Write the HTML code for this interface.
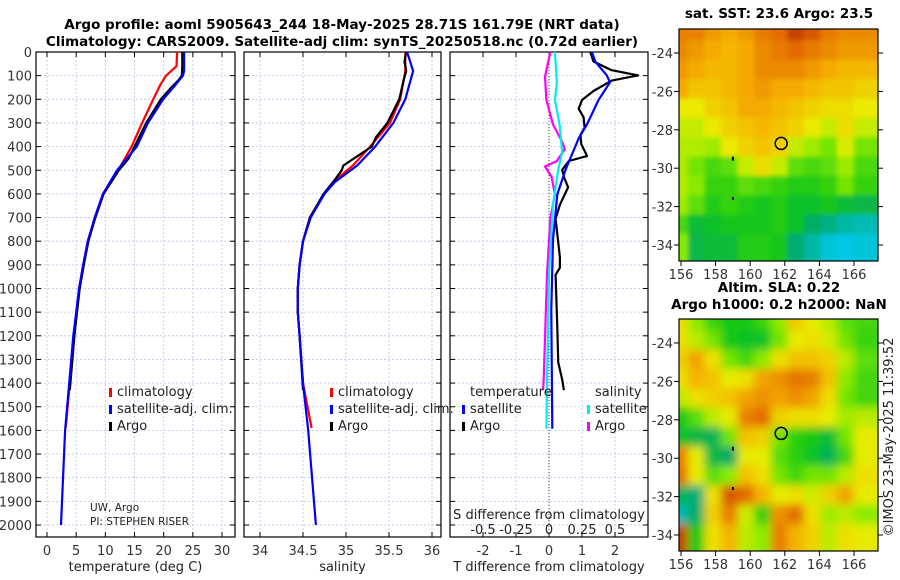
<!DOCTYPE html>
<html><head><meta charset="utf-8"><style>
html,body{margin:0;padding:0;background:#fff;}
svg{display:block;font-family:"DejaVu Sans","Liberation Sans",sans-serif;}
</style></head><body>
<svg id="c" width="900" height="580" viewBox="0 0 900 580" xmlns="http://www.w3.org/2000/svg">
<defs>
<clipPath id="clipTop"><rect x="679" y="29" width="199" height="232"/></clipPath>
<clipPath id="clipBot"><rect x="679" y="319" width="199" height="232"/></clipPath>
<filter id="blurA" x="-10%" y="-10%" width="120%" height="120%"><feGaussianBlur stdDeviation="2.5"/></filter>
<filter id="blurB" x="-10%" y="-10%" width="120%" height="120%"><feGaussianBlur stdDeviation="4.5"/></filter>
</defs>
<text x="342" y="29" text-anchor="middle" font-size="13.5" font-weight="bold">Argo profile: aoml 5905643_244 18-May-2025 28.71S 161.79E (NRT data)</text>
<text x="342" y="46" text-anchor="middle" font-size="13.5" font-weight="bold">Climatology: CARS2009. Satellite-adj clim: synTS_20250518.nc (0.72d earlier)</text>
<g id="plots"></g>
</svg>
<script>
// ---------- Data ----------
const depthTicks=[0,100,200,300,400,500,600,700,800,900,1000,1100,1200,1300,1400,1500,1600,1700,1800,1900,2000];
const tTicks=[0,5,10,15,20,25,30];
const sTicks=[34,34.5,35,35.5,36];
const dTTicks=[-2,-1,0,1,2];
const dSTicks=[-0.5,-0.25,0,0.25,0.5];
const dSTickLabels=["-0.5","-0.25","0","0.25","0.5"];

const tClimDepth=[0,60,100,140,200,300,400,500,600,700,800,900,1000,1200,1400,1590];
const tClimVal=[22.3,22.2,20.4,19.4,18.2,16.3,14.5,12.2,9.6,8.2,7.0,6.2,5.5,4.6,3.9,3.2];
const tSatDepth=[0,80,100,140,200,300,400,500,600,700,800,900,1000,1200,1400,1600,2000];
const tSatVal=[23.5,23.5,23.3,22.0,19.9,17.3,15.4,12.0,9.6,8.2,7.0,6.2,5.5,4.5,3.8,3.1,2.4];
const tArgoDepth=[0,60,100,120,150,200,300,400,450,500,600,700,800,900,1000,1200,1430];
const tArgoVal=[23.2,23.2,23.1,22.5,21.3,19.5,17.0,15.0,14.0,12.3,9.7,8.3,7.1,6.3,5.6,4.7,3.9];

const sClimDepth=[0,80,200,300,400,480,550,600,700,800,900,1000,1100,1200,1400,1590];
const sClimVal=[35.69,35.69,35.63,35.51,35.28,35.08,34.85,34.74,34.58,34.50,34.46,34.44,34.44,34.46,34.50,34.60];
const sSatDepth=[0,80,200,300,400,480,550,600,700,800,900,1000,1100,1200,1400,1600,2000];
const sSatVal=[35.71,35.78,35.69,35.55,35.34,35.13,34.87,34.75,34.59,34.50,34.46,34.44,34.44,34.46,34.50,34.56,34.65];
const sArgoDepth=[0,40,80,120,200,300,360,400,480,500,550,600,700,800,900,1000,1100,1200,1430];
const sArgoVal=[35.70,35.68,35.70,35.67,35.62,35.48,35.35,35.30,34.97,34.95,34.85,34.74,34.58,34.50,34.46,34.44,34.44,34.46,34.50];

const dTSatDepth=[0,40,99,128,203,306,365,498,602,794,1090,1593];
const dTSatVal=[1.3,1.4,1.75,1.85,1.5,1.15,0.9,0.5,0.25,0.12,0.07,0.1];
const dTArgoDepth=[0,40,77,99,121,165,203,240,276,320,351,390,424,440,461,498,528,572,646,705,868,912,942,1164,1311,1385,1430];
const dTArgoVal=[1.25,1.35,1.9,2.7,1.9,1.35,1.0,0.9,1.05,1.08,0.95,0.98,1.1,1.15,0.6,0.4,0.45,0.58,0.33,0.2,0.33,0.33,0.2,0.25,0.28,0.4,0.45];
const dSSatDepth=[0,128,203,306,424,498,646,942,1385,1593];
const dSSatVal=[0.045,0.06,0.045,0.08,0.1,0.07,0.03,0,-0.015,-0.02];
const dSArgoDepth=[0,105,203,306,380,410,461,484,528,602,705,942,1385,1430];
const dSArgoVal=[0.01,-0.03,-0.02,0.03,0.1,0.12,0.06,-0.03,0.02,0.045,0.01,-0.015,-0.04,-0.045];

const lonTicks=[156,158,160,162,164,166];
const latTicks=[-24,-26,-28,-30,-32,-34];
const argoLon=161.79, argoLat=-28.71;
const sstGrid=[
[.85,.85,.82,.80,.82,.86,.88,.92,.90,.86,.84,.84],
[.84,.82,.80,.78,.80,.84,.86,.88,.86,.84,.82,.82],
[.82,.80,.78,.78,.80,.84,.84,.84,.82,.80,.78,.78],
[.80,.76,.76,.78,.80,.82,.80,.80,.78,.76,.76,.74],
[.70,.70,.74,.76,.80,.80,.78,.76,.74,.72,.72,.70],
[.66,.66,.70,.74,.76,.78,.76,.74,.70,.66,.72,.66],
[.64,.64,.62,.70,.74,.76,.74,.66,.62,.58,.68,.58],
[.64,.58,.54,.56,.66,.72,.66,.56,.54,.56,.62,.54],
[.64,.60,.52,.52,.56,.54,.52,.50,.50,.52,.58,.52],
[.62,.56,.50,.52,.50,.48,.50,.46,.46,.48,.44,.42],
[.54,.44,.46,.48,.48,.48,.50,.46,.38,.34,.30,.28],
[.60,.42,.44,.44,.50,.50,.48,.36,.30,.24,.22,.24]];
const slaGrid=[
[.72,.62,.55,.52,.52,.55,.62,.75,.70,.66,.58,.56],
[.72,.66,.60,.52,.50,.50,.60,.70,.72,.68,.60,.55],
[.74,.80,.72,.60,.56,.62,.72,.76,.76,.74,.66,.58],
[.72,.78,.76,.70,.72,.80,.82,.85,.84,.76,.62,.56],
[.66,.72,.74,.76,.80,.82,.80,.82,.80,.72,.60,.56],
[.52,.58,.66,.70,.84,.86,.74,.72,.72,.70,.64,.66],
[.50,.46,.44,.60,.76,.74,.60,.54,.52,.48,.60,.70],
[.84,.70,.46,.42,.70,.70,.58,.54,.50,.44,.56,.70],
[.86,.70,.58,.62,.76,.72,.60,.56,.60,.60,.66,.72],
[.44,.40,.72,.88,.86,.78,.70,.72,.68,.74,.80,.70],
[.34,.42,.74,.84,.68,.54,.82,.86,.72,.64,.66,.62],
[.90,.52,.72,.78,.66,.62,.84,.78,.74,.66,.72,.70]];

// ---------- Helpers ----------
const NS="http://www.w3.org/2000/svg";
const root=document.getElementById('plots');
function mk(tag,attrs,parent){const e=document.createElementNS(NS,tag);for(const k in attrs)e.setAttribute(k,attrs[k]);(parent||root).appendChild(e);return e;}
const TOP=52,BOT=537;
const yD=d=>TOP+d*0.2365;
function linear(d0,d1,r0,r1){return v=>r0+(v-d0)*(r1-r0)/(d1-d0);}
const panels=[
 {name:'temperature-panel',x0:36,x1:235,sx:linear(0,30,47,222)},
 {name:'salinity-panel',x0:244,x1:441,sx:linear(34,36,260,432)},
 {name:'difference-panel',x0:450,x1:648,sx:linear(-2,2,483,615)}];
const sxDS=linear(-0.5,0.5,483,615);

function drawPanel(p,ticks,labels,xtitle){
 const g=mk('g',{});
 
 
 depthTicks.forEach(d=>{const l=mk('line',{x1:p.x0,x2:p.x1,y1:yD(d),y2:yD(d),stroke:'#b8c4e8','stroke-width':0.8,'stroke-dasharray':'2,2'},g);
  
  mk('line',{x1:p.x0,x2:p.x0+5,y1:yD(d),y2:yD(d),stroke:'#000'},g);
  mk('line',{x1:p.x1,x2:p.x1-5,y1:yD(d),y2:yD(d),stroke:'#000'},g);});
 ticks.forEach((t,i)=>{const x=p.sx(t);
  const l=mk('line',{x1:x,x2:x,y1:TOP,y2:BOT,stroke:'#b8c4e8','stroke-width':0.8,'stroke-dasharray':'2,2'},g);
  
  mk('line',{x1:x,x2:x,y1:BOT,y2:BOT-5,stroke:'#000'},g);
  mk('line',{x1:x,x2:x,y1:TOP,y2:TOP+5,stroke:'#000'},g);
  const tx=mk('text',{x:x,y:555,'text-anchor':'middle','font-size':13,fill:'#333'},g);tx.textContent=labels[i];
  });
 const fr=mk('rect',{x:p.x0,y:TOP,width:p.x1-p.x0,height:BOT-TOP,fill:'none',stroke:'#000','stroke-width':1.2},g);
 
 const tt=mk('text',{x:(p.x0+p.x1)/2,y:571,'text-anchor':'middle','font-size':13,fill:'#222'},g);tt.textContent=xtitle;
 
 return g;}
function line(g,depths,vals,sx,color,w,name){
 const pts=depths.map((d,i)=>sx(vals[i]).toFixed(1)+','+yD(d).toFixed(1)).join(' ');
 const pl=mk('polyline',{points:pts,fill:'none',stroke:color,'stroke-width':w,'stroke-linejoin':'round'},g);
 }
function legend(g,x,y,color,label,name){
 mk('rect',{x:x,y:y-8,width:3,height:9,fill:color},g);
 const t=mk('text',{x:x+8,y:y,'font-size':13,fill:'#222'},g);t.textContent=label;
 }

depthTicks.forEach(d=>{const t=mk('text',{x:32,y:yD(d)+5,'text-anchor':'end','font-size':13,fill:'#333'});t.textContent=d;
 });

// Panel 1
const g1=drawPanel(panels[0],tTicks,tTicks.map(String),'temperature (deg C)');
const s1=panels[0].sx;
line(g1,tClimDepth,tClimVal,s1,'#f00',2.2,'temperature-climatology-line');
line(g1,tArgoDepth,tArgoVal,s1,'#000',2.2,'temperature-argo-line');
line(g1,tSatDepth,tSatVal,s1,'#00f',2.2,'temperature-satellite-line');
legend(g1,109,396,'#f00','climatology','legend-climatology');
legend(g1,109,413,'#00f','satellite-adj. clim.','legend-satellite');
legend(g1,109,430,'#000','Argo','legend-argo');
let t=mk('text',{x:90,y:511,'font-size':10.5,fill:'#222'},g1);t.textContent='UW, Argo';
t=mk('text',{x:90,y:525,'font-size':10.5,fill:'#222'},g1);t.textContent='PI: STEPHEN RISER';

// Panel 2
const g2=drawPanel(panels[1],sTicks,sTicks.map(String),'salinity');
const s2=panels[1].sx;
line(g2,sClimDepth,sClimVal,s2,'#f00',2.2,'salinity-climatology-line');
line(g2,sArgoDepth,sArgoVal,s2,'#000',2.2,'salinity-argo-line');
line(g2,sSatDepth,sSatVal,s2,'#00f',2.2,'salinity-satellite-line');
legend(g2,330,396,'#f00','climatology','legend-climatology-2');
legend(g2,330,413,'#00f','satellite-adj. clim.','legend-satellite-2');
legend(g2,330,430,'#000','Argo','legend-argo-2');

// Panel 3
const g3=drawPanel(panels[2],dTTicks,dTTicks.map(String),'T difference from climatology');
const s3=panels[2].sx;
const zl=mk('line',{x1:s3(0),x2:s3(0),y1:TOP,y2:BOT,stroke:'#444','stroke-width':1,'stroke-dasharray':'1,2'},g3);

line(g3,dSArgoDepth,dSArgoVal,sxDS,'#f0f',2.2,'salinity-diff-argo-line');
line(g3,dSSatDepth,dSSatVal,sxDS,'#0ee',2.2,'salinity-diff-satellite-line');
line(g3,dTArgoDepth,dTArgoVal,s3,'#000',2.2,'temperature-diff-argo-line');
line(g3,dTSatDepth,dTSatVal,s3,'#00f',2.2,'temperature-diff-satellite-line');
t=mk('text',{x:470,y:396,'font-size':13,fill:'#222'},g3);t.textContent='temperature';
t=mk('text',{x:595,y:396,'font-size':13,fill:'#222'},g3);t.textContent='salinity';
legend(g3,462,413,'#00f','satellite','legend-t-satellite');
legend(g3,462,430,'#000','Argo','legend-t-argo');
legend(g3,587,413,'#0ee','satellite','legend-s-satellite');
legend(g3,587,430,'#f0f','Argo','legend-s-argo');
t=mk('text',{x:549,y:519,'text-anchor':'middle','font-size':13,fill:'#222'},g3);t.textContent='S difference from climatology';
dSTicks.forEach((v,i)=>{const tx=mk('text',{x:sxDS(v),y:534,'text-anchor':'middle','font-size':13,fill:'#222'},g3);tx.textContent=dSTickLabels[i];
 });

// ---------- Maps ----------
const cstops=[[0,30,130,255],[0.2,0,200,230],[0.35,0,170,110],[0.48,20,200,20],[0.6,140,235,0],[0.7,235,235,0],[0.8,245,175,0],[0.9,225,100,0],[1,150,0,0]];
function cmap(v){v=Math.max(0,Math.min(1,v));for(let i=1;i<cstops.length;i++){if(v<=cstops[i][0]){const a=cstops[i-1],b=cstops[i],f=(v-a[0])/(b[0]-a[0]);
 return 'rgb('+[1,2,3].map(k=>Math.round(a[k]+f*(b[k]-a[k]))).join(',')+')';}}return 'rgb(150,0,0)';}
const lonX=linear(156,166,681,854);
function drawMap(name,grid,top,clip,filt,center,contrast,title1,title2){
 const g=mk('g',{});
 const latY=linear(-24,-34,top+24,top+216);
 const hm=mk('g',{'clip-path':'url(#'+clip+')'},g);
 const inner=mk('g',{filter:'url(#'+filt+')'},hm);
 const rows=grid.length,cols=grid[0].length;
 const lon0=155.9,lon1=167.4,lat0=-22.75,lat1=-34.85;
 grid.forEach((row,r)=>row.forEach((v,c)=>{
  const x=lonX(lon0+(lon1-lon0)*c/cols),x2=lonX(lon0+(lon1-lon0)*(c+1)/cols);
  const y=latY(lat0+(lat1-lat0)*r/rows),y2=latY(lat0+(lat1-lat0)*(r+1)/rows);
  const cell=mk('rect',{x:x-8,y:y-8,width:x2-x+16,height:y2-y+16,fill:cmap(center+(v-center)*contrast)},inner);
  }));
 const fr=mk('rect',{x:679,y:top,width:199,height:232,fill:'none',stroke:'#000','stroke-width':1.2},g);
 
 lonTicks.forEach(l=>{const x=lonX(l);mk('line',{x1:x,x2:x,y1:top+232,y2:top+237,stroke:'#000'},g);
  const tx=mk('text',{x:x,y:top+250,'text-anchor':'middle','font-size':13,fill:'#333'},g);tx.textContent=l;
  });
 latTicks.forEach(l=>{const y=latY(l);mk('line',{x1:679,x2:674,y1:y,y2:y,stroke:'#000'},g);mk('line',{x1:878,x2:883,y1:y,y2:y,stroke:'#000'},g);
  const tx=mk('text',{x:673,y:y+5,'text-anchor':'end','font-size':13,fill:'#333'},g);tx.textContent=l;
  });
 const ci=mk('circle',{cx:lonX(argoLon),cy:latY(argoLat),r:6,fill:'none',stroke:'#000','stroke-width':1.5},g);
 
 mk('rect',{x:lonX(159)-1,y:latY(-29.4),width:2,height:4,fill:'#000'},g);
 mk('rect',{x:lonX(159)-1,y:latY(-31.5),width:2,height:3,fill:'#000'},g);
 let tt=mk('text',{x:779,y:title2?top-27:top-11,'text-anchor':'middle','font-size':13.5,'font-weight':'bold'},g);tt.textContent=title1;
 
 if(title2){tt=mk('text',{x:779,y:top-10,'text-anchor':'middle','font-size':13.5,'font-weight':'bold'},g);tt.textContent=title2;
 }
}
drawMap('sst-map',sstGrid,29,'clipTop','blurA',0.66,1.05,'sat. SST: 23.6 Argo: 23.5',null);
drawMap('sla-map',slaGrid,319,'clipBot','blurB',0.72,1.2,'Altim. SLA: 0.22','Argo h1000: 0.2 h2000: NaN');
t=mk('text',{x:0,y:0,'text-anchor':'middle','font-size':13,fill:'#222',transform:'translate(893,437) rotate(-90)'});
t.textContent='©IMOS 23-May-2025 11:39:52';
</script>
</body></html>
